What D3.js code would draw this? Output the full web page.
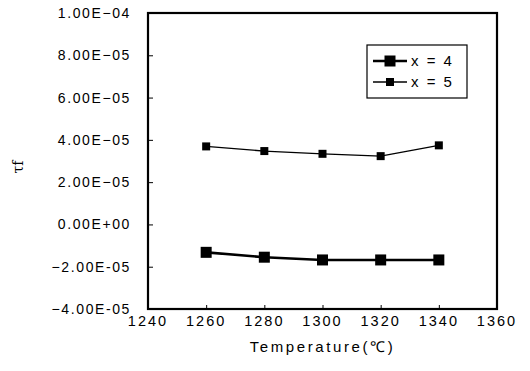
<!DOCTYPE html>
<html>
<head>
<meta charset="utf-8">
<script src="https://cdn.jsdelivr.net/npm/d3@7"></script>
<style>
  body { margin: 0; background: #fff; }
  svg { display: block; font-family: Arial, 'Liberation Sans', sans-serif; }
</style>
</head>
<body>
<svg id="chart" width="530" height="371"></svg>
<script>
// data
const temps = [1260, 1280, 1300, 1320, 1340]
const x4Values = [-1.32e-5, -1.55e-5, -1.68e-5, -1.68e-5, -1.68e-5]
const x5Values = [3.69e-5, 3.47e-5, 3.34e-5, 3.23e-5, 3.74e-5]
const xTicks = [1240, 1260, 1280, 1300, 1320, 1340, 1360]
const yTicks = [-4e-5, -2e-5, 0, 2e-5, 4e-5, 6e-5, 8e-5, 1e-4]
const yTickLabels = ['-4.00E-05', '-2.00E-05', '0.00E+00', '2.00E-05', '4.00E-05', '6.00E-05', '8.00E-05', '1.00E-04']

const series = [
  { name: 'x = 4', values: x4Values, width: 2.6, size: 11 },
  { name: 'x = 5', values: x5Values, width: 1.3, size: 8 }
]

const svg = d3.select('#chart')
const plotL = 148, plotR = 497, plotT = 13, plotB = 309

const x = d3.scaleLinear().domain([1240, 1360]).range([plotL, plotR])
const y = d3.scaleLinear().domain([-4e-5, 1e-4]).range([plotB, plotT])

// frame
svg.append('rect')
  .attr('x', plotL).attr('y', plotT)
  .attr('width', plotR - plotL).attr('height', plotB - plotT)
  .attr('fill', 'none').attr('stroke', '#000').attr('stroke-width', 2.2)

// y axis — ticks point inward
const yAxis = svg.append('g')
  .attr('transform', `translate(${plotL},0)`)
  .call(d3.axisRight(y).tickValues(yTicks).tickSize(5).tickFormat(''))
yAxis.select('.domain').remove()
yAxis.selectAll('line').attr('stroke', '#000').attr('stroke-width', 1)

svg.append('g').selectAll('text')
  .data(yTicks)
  .enter()
  .append('text')
  .attr('x', 131)
  .attr('y', d => y(d))
  .attr('dy', '0.36em')
  .attr('text-anchor', 'end')
  .attr('font-size', '14px')
  .attr('letter-spacing', '1.6px')
  .text((d, i) => yTickLabels[i].replace('-', '\u2212'))

// x axis — ticks point up
const xAxis = svg.append('g')
  .attr('transform', `translate(0,${plotB})`)
  .call(d3.axisTop(x).tickValues(xTicks).tickSize(4).tickFormat(''))
xAxis.select('.domain').remove()
xAxis.selectAll('line').attr('stroke', '#000').attr('stroke-width', 1)

svg.append('g').selectAll('text')
  .data(xTicks)
  .enter()
  .append('text')
  .attr('x', d => x(d))
  .attr('y', 326)
  .attr('text-anchor', 'middle')
  .attr('font-size', '14.5px')
  .attr('letter-spacing', '2px')
  .text(d => d)

// axis titles
svg.append('text')
  .attr('x', (plotL + plotR) / 2)
  .attr('y', 352)
  .attr('text-anchor', 'middle')
  .attr('font-size', '15px')
  .attr('letter-spacing', '2.6px')
  .text('Temperature(℃)')

svg.append('text')
  .attr('transform', 'translate(23,167) rotate(-90)')
  .attr('text-anchor', 'middle')
  .attr('font-size', '14px')
  .attr('font-family', "'DejaVu Serif', serif")
  .text('τf')

// series
const line = d3.line()
  .x((d, i) => x(temps[i]))
  .y(d => y(d))

series.forEach(s => {
  svg.append('path')
    .datum(s.values)
    .attr('d', line)
    .attr('fill', 'none')
    .attr('stroke', '#000')
    .attr('stroke-width', s.width)

  svg.append('g').selectAll('rect')
    .data(s.values)
    .enter()
    .append('rect')
    .attr('x', (d, i) => x(temps[i]) - s.size / 2)
    .attr('y', d => y(d) - s.size / 2)
    .attr('width', s.size)
    .attr('height', s.size)
    .attr('fill', '#000')
})

// legend
const legend = svg.append('g').attr('transform', 'translate(367,45)')
legend.append('rect')
  .attr('width', 100).attr('height', 53)
  .attr('fill', '#fff').attr('stroke', '#000').attr('stroke-width', 1.2)

series.forEach((s, i) => {
  const ly = 16 + i * 21
  legend.append('line')
    .attr('x1', 6).attr('x2', 40)
    .attr('y1', ly).attr('y2', ly)
    .attr('stroke', '#000').attr('stroke-width', s.width)
  legend.append('rect')
    .attr('x', 23 - s.size / 2).attr('y', ly - s.size / 2)
    .attr('width', s.size).attr('height', s.size)
    .attr('fill', '#000')
  legend.append('text')
    .attr('x', 44).attr('y', ly)
    .attr('dy', '0.36em')
    .attr('font-size', '15px')
    .attr('letter-spacing', '2px')
    .text(s.name)
})
</script>
</body>
</html>
